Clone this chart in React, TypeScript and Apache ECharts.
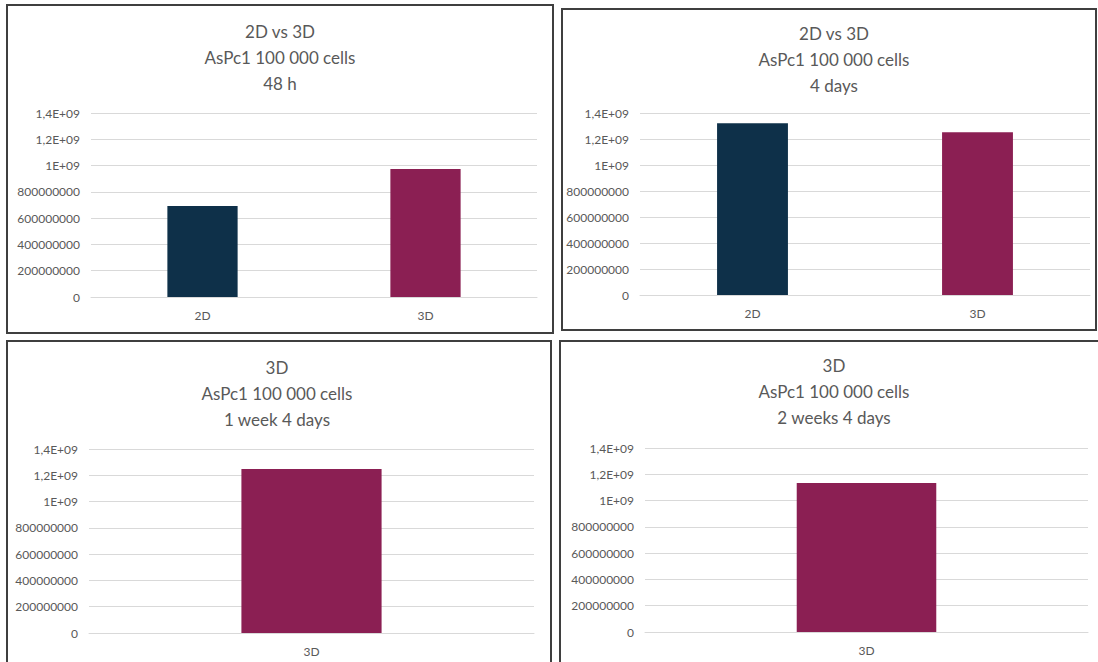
import React, { useEffect, useRef } from "react";
import * as echarts from "echarts";

// ---- data ----
const categories48h = ["2D", "3D"];
const values48h = [692000000, 974000000];
const categories4d = ["2D", "3D"];
const values4d = [1322000000, 1252000000];
const categories1w4d = ["3D"];
const values1w4d = [1248000000];
const categories2w4d = ["3D"];
const values2w4d = [1134000000];

const titles = [
  "2D vs 3D\nAsPc1 100 000 cells\n48 h",
  "2D vs 3D\nAsPc1 100 000 cells\n4 days",
  "3D\nAsPc1 100 000 cells\n1 week 4 days",
  "3D\nAsPc1 100 000 cells\n2 weeks 4 days",
];

const yTickValues = [0, 200000000, 400000000, 600000000, 800000000, 1000000000, 1200000000, 1400000000];
const yTickLabels = ["0", "200000000", "400000000", "600000000", "800000000", "1E+09", "1,2E+09", "1,4E+09"];

const colorByCategory: Record<string, string> = { "2D": "#0e3049", "3D": "#8b1f53" };

// ---- layout ----
const layout = [
  { grid: { left: 91, top: 113, width: 446, height: 184 }, border: { x: 7, y: 5, width: 546, height: 328 }, cx: 280, ty: 18 },
  { grid: { left: 640, top: 113, width: 450, height: 182 }, border: { x: 562, y: 9, width: 534, height: 321 }, cx: 834, ty: 20 },
  { grid: { left: 89, top: 449, width: 445, height: 184 }, border: { x: 7, y: 341, width: 544, height: 340 }, cx: 277, ty: 354 },
  { grid: { left: 645, top: 448, width: 443, height: 184 }, border: { x: 560, y: 341, width: 560, height: 340 }, cx: 834, ty: 352 },
];

const panelData = [
  { cats: categories48h, vals: values48h },
  { cats: categories4d, vals: values4d },
  { cats: categories1w4d, vals: values1w4d },
  { cats: categories2w4d, vals: values2w4d },
];

const FONT = "Lato, 'Open Sans', sans-serif";
const TEXT = "#595959";
const GRIDLINE = "#d9d9d9";

export default function App() {
  const ref = useRef<HTMLDivElement>(null);
  useEffect(() => {
    if (!ref.current) return;
    const chart = echarts.init(ref.current, undefined, { renderer: "svg" });
    const option: any = {
      animation: false,
      backgroundColor: "#ffffff",
      grid: layout.map((l) => ({ ...l.grid, containLabel: false })),
      xAxis: panelData.map((p, i) => ({
        type: "category",
        gridIndex: i,
        data: p.cats,
        axisLine: { show: true, lineStyle: { color: GRIDLINE, width: 1 } },
        axisTick: { show: false },
        axisLabel: { color: TEXT, fontSize: 12, fontFamily: FONT, margin: 12 },
      })),
      yAxis: panelData.map((_, i) => ({
        type: "value",
        gridIndex: i,
        min: 0,
        max: 1400000000,
        interval: 200000000,
        axisLine: { show: false },
        axisTick: { show: false },
        splitLine: { show: true, lineStyle: { color: GRIDLINE, width: 1 } },
        axisLabel: {
          color: TEXT,
          fontSize: 12,
          fontFamily: FONT,
          margin: 11,
          formatter: (v: number) => {
            const idx = yTickValues.indexOf(v);
            return idx >= 0 ? yTickLabels[idx] : String(v);
          },
        },
      })),
      series: panelData.map((p, i) => ({
        type: "bar",
        xAxisIndex: i,
        yAxisIndex: i,
        barWidth: "31.5%",
        data: p.vals.map((v, j) => ({ value: v, itemStyle: { color: colorByCategory[p.cats[j]] } })),
      })),
      graphic: [
        ...layout.map((l) => ({
          type: "rect",
          silent: true,
          shape: { ...l.border },
          style: { fill: "none", stroke: "#3f3f3f", lineWidth: 2 },
          z: 100,
        })),
        ...layout.map((l, i) => ({
          type: "text",
          silent: true,
          x: l.cx,
          y: l.ty,
          style: {
            text: titles[i],
            fill: TEXT,
            font: `17px ${FONT}`,
            textAlign: "center",
            textVerticalAlign: "top",
            lineHeight: 26,
          },
        })),
      ],
    };
    chart.setOption(option);
    return () => chart.dispose();
  }, []);
  return (
    <div
      ref={ref}
      style={{ position: "absolute", left: 0, top: 0, width: 1098, height: 662, background: "#fff" }}
    />
  );
}
